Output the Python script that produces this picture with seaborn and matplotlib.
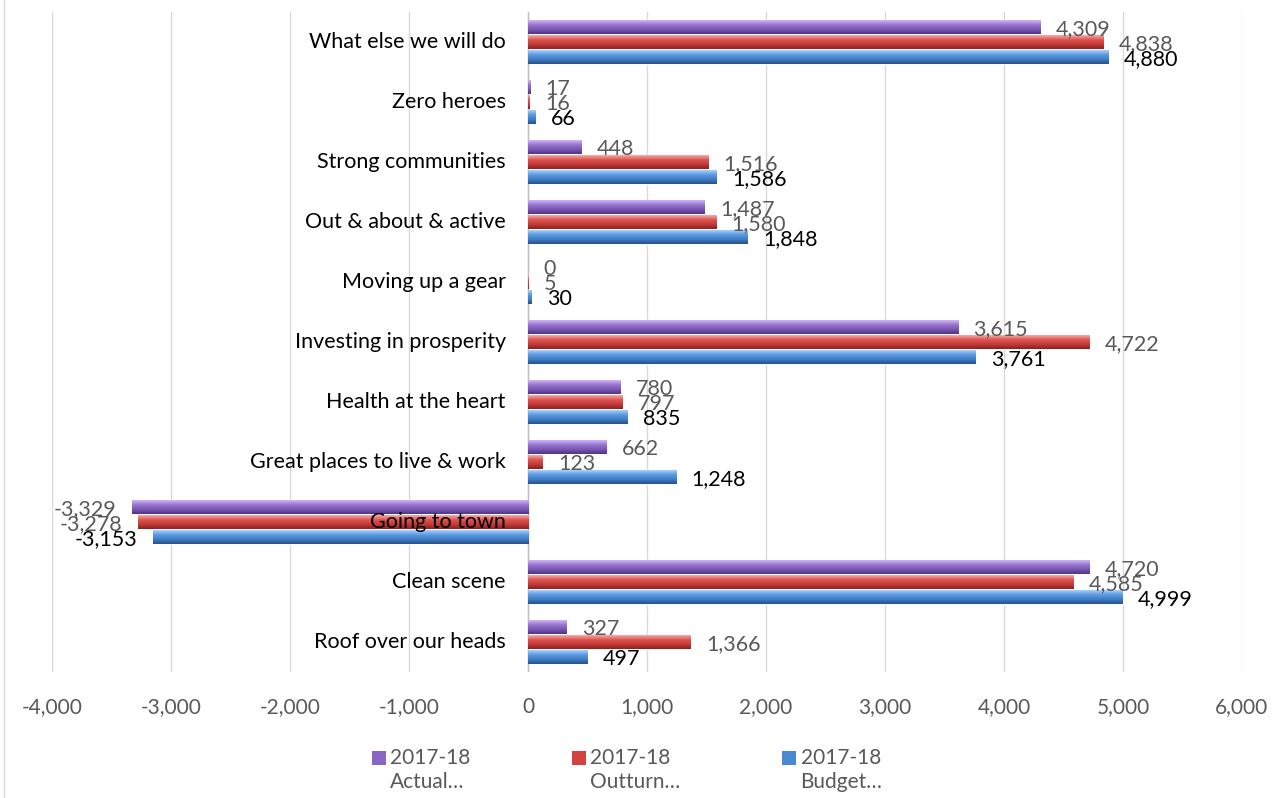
import numpy as np
import pandas as pd
import matplotlib
matplotlib.use("Agg")
import matplotlib.pyplot as plt
from matplotlib.colors import LinearSegmentedColormap
from matplotlib.patches import Patch
from matplotlib.lines import Line2D
from matplotlib.ticker import FuncFormatter, MultipleLocator
import seaborn as sns

# data
categories = ["What else we will do", "Zero heroes", "Strong communities",
              "Out & about & active", "Moving up a gear", "Investing in prosperity",
              "Health at the heart", "Great places to live & work", "Going to town",
              "Clean scene", "Roof over our heads"]
actual = [4309, 17, 448, 1487, 0, 3615, 780, 662, -3329, 4720, 327]
outturn = [4838, 16, 1516, 1580, 5, 4722, 797, 123, -3278, 4585, 1366]
budget = [4880, 66, 1586, 1848, 30, 3761, 835, 1248, -3153, 4999, 497]
series = ["2017-18\nActual…", "2017-18\nOutturn…", "2017-18\nBudget…"]

df = pd.DataFrame({
    "category": categories * 3,
    "value": actual + outturn + budget,
    "series": np.repeat(series, len(categories)),
})

sns.set_theme(style="white")
plt.rcParams["font.family"] = ["Lato", "DejaVu Sans"]
plt.rcParams["axes.unicode_minus"] = False

mid = ["#8a66c4", "#d4423f", "#4a88d4"]
grads = [["#d2b4f7", "#9676cf", "#7a56b4", "#4f3580"],
         ["#f9a9a6", "#dc5552", "#c43a37", "#862321"],
         ["#a6d3fa", "#5c9ae0", "#3f7cc6", "#284f86"]]
label_cols = ["#595959", "#595959", "#000000"]

fig = plt.figure(figsize=(12.87, 7.98), dpi=100)
ax = fig.add_axes([52 / 1287, 1 - 672 / 798, (1242 - 52) / 1287, 660 / 798])

sns.barplot(data=df, x="value", y="category", hue="series", orient="h",
            order=categories, hue_order=series, palette=mid,
            width=0.74, gap=0.08, ax=ax, legend=False, saturation=1,
            err_kws={"linewidth": 0})

ax.set_xlim(-4000, 6000)
ax.set_ylim(len(categories) - 0.5, -0.5)

# glossy gradient inside each bar
grad = np.linspace(0, 1, 64).reshape(-1, 1)
for k, cont in enumerate(ax.containers):
    cmap = LinearSegmentedColormap.from_list(f"g{k}", grads[k])
    for p in cont.patches:
        x0, x1 = sorted([p.get_x(), p.get_x() + p.get_width()])
        y0, y1 = p.get_y(), p.get_y() + p.get_height()
        if x1 - x0 <= 0:
            continue
        im = ax.imshow(grad, cmap=cmap, aspect="auto", extent=(x0, x1, y1, y0),
                       origin="upper", zorder=p.get_zorder() + 0.1,
                       interpolation="bilinear")
        im.set_clip_path(p)
ax.set_xlim(-4000, 6000)
ax.set_ylim(len(categories) - 0.5, -0.5)

# value labels
for k, (cont, vals) in enumerate(zip(ax.containers, [actual, outturn, budget])):
    for p, v in zip(cont.patches, vals):
        yc = p.get_y() + p.get_height() / 2
        off = 11 if v >= 0 else -11
        ax.annotate(f"{v:,}", xy=(v, yc), xytext=(off, -1.5),
                    textcoords="offset points", va="center",
                    ha="left" if v >= 0 else "right",
                    fontsize=15.5, color=label_cols[k], zorder=5)

# category labels next to zero axis
for i, c in enumerate(categories):
    ax.annotate(c, xy=(0, i), xytext=(-16, 0), textcoords="offset points",
                ha="right", va="center", fontsize=15.5, color="black", zorder=6)

ax.set_yticks([])
ax.set_xlabel("")
ax.set_ylabel("")
ax.xaxis.set_major_locator(MultipleLocator(1000))
ax.xaxis.set_major_formatter(FuncFormatter(lambda v, _: f"{int(v):,}"))
ax.tick_params(axis="x", length=0, pad=18, labelsize=15, labelcolor="#595959")
ax.xaxis.grid(True, color="#d9d9d9", linewidth=1)
ax.set_axisbelow(True)
ax.axvline(0, color="#bfbfbf", linewidth=1, zorder=1)
for s in ax.spines.values():
    s.set_visible(False)

fig.add_artist(Line2D([4 / 1287, 4 / 1287], [0, 1], color="#d9d9d9", linewidth=1))

handles = [Patch(facecolor=c, edgecolor="none") for c in mid]
leg = fig.legend(handles, series, loc="center", bbox_to_anchor=(627 / 1287, 1 - 770 / 798),
                 ncol=3, frameon=False, fontsize=15, handlelength=0.67, handleheight=0.67,
                 handletextpad=0.2, columnspacing=4.9, labelcolor="#595959")
for h in leg.legend_handles:
    h.set_y(h.get_y() + 9)

fig.savefig("out.png", dpi=100)
